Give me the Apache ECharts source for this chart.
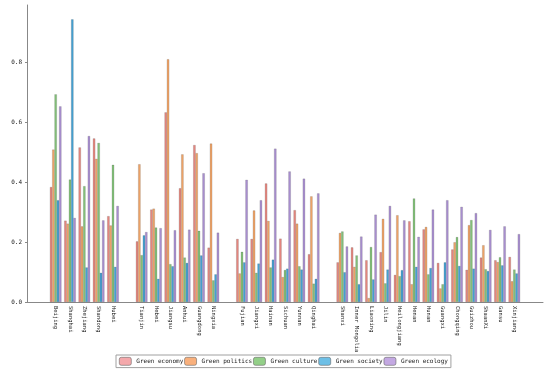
<!DOCTYPE html>
<html>
<head>
<meta charset="utf-8">
<script src="https://cdn.jsdelivr.net/npm/echarts@6/dist/echarts.min.js"></script>
<style>
  html, body { margin: 0; padding: 0; background: #fff; }
  #chart { width: 550px; height: 372px; }
</style>
</head>
<body>
<div id="chart"></div>
<script>
// '' entries are empty slots that separate the province groups
const provinces = ['', '',
  'Beijing', 'Shanghai', 'Zhejiang', 'Shandong', 'Hubei', '',
  'Tianjin', 'Hebei', 'Jiangsu', 'Anhui', 'Guangdong', 'Ningxia', '',
  'Fujian', 'Jiangxi', 'Hainan', 'Sichuan', 'Yunnan', 'Qinghai', '',
  'Shanxi', 'Inner Mongolia', 'Liaoning', 'Jilin', 'Heilongjiang', 'Henan', 'Hunan',
  'Guangxi', 'Chongqing', 'Guizhou', 'ShaanXi', 'Gansu', 'Xinjiang', '', ''];

const greenEconomy = [null, null,
  0.383, 0.271, 0.515, 0.545, 0.286, null,
  0.202, 0.308, 0.632, 0.379, 0.523, 0.181, null,
  0.210, 0.210, 0.395, 0.211, 0.306, 0.159, null,
  0.132, 0.182, 0.139, 0.166, 0.090, 0.269, 0.242,
  0.130, 0.175, 0.107, 0.148, 0.139, 0.150, null, null];

const greenPolitics = [null, null,
  0.508, 0.261, 0.252, 0.477, 0.255, null,
  0.459, 0.311, 0.809, 0.492, 0.496, 0.528, null,
  0.095, 0.305, 0.270, 0.083, 0.261, 0.352, null,
  0.230, 0.117, 0.013, 0.277, 0.289, 0.059, 0.250,
  0.045, 0.199, 0.256, 0.189, 0.133, 0.069, null, null];

const greenCulture = [null, null,
  0.692, 0.408, 0.386, 0.530, 0.457, null,
  0.156, 0.248, 0.126, 0.148, 0.237, 0.072, null,
  0.167, 0.097, 0.115, 0.106, 0.119, 0.061, null,
  0.235, 0.155, 0.183, 0.062, 0.086, 0.345, 0.092,
  0.059, 0.216, 0.273, 0.109, 0.149, 0.108, null, null];

const greenSociety = [null, null,
  0.339, 0.942, 0.115, 0.097, 0.117, null,
  0.222, 0.077, 0.119, 0.130, 0.155, 0.092, null,
  0.132, 0.128, 0.141, 0.111, 0.108, 0.077, null,
  0.099, 0.059, 0.075, 0.108, 0.106, 0.117, 0.113,
  0.132, 0.120, 0.111, 0.103, 0.122, 0.095, null, null];

const greenEcology = [null, null,
  0.652, 0.280, 0.553, 0.272, 0.320, null,
  0.233, 0.246, 0.239, 0.241, 0.429, 0.231, null,
  0.407, 0.339, 0.511, 0.435, 0.411, 0.362, null,
  0.185, 0.218, 0.291, 0.320, 0.272, 0.217, 0.308,
  0.339, 0.317, 0.296, 0.240, 0.252, 0.226, null, null];

const yTicks = [0, 0.2, 0.4, 0.6, 0.8];

const chart = echarts.init(document.getElementById('chart'), null, { renderer: 'canvas' });

const monoFont = 'DejaVu Sans Mono';

const barCommon = {
  type: 'bar',
  barWidth: 2.3,
  barGap: '0%',
  emphasis: { disabled: true },
};

function makeSeries(name, data, color) {
  return {
    name: name,
    data: data,
    itemStyle: {
      color: color,
      borderColor: 'rgba(70, 70, 70, 0.6)',
      borderWidth: 0.3,
    },
    ...barCommon,
  };
}

const option = {
  animation: false,
  backgroundColor: '#fff',
  grid: {
    left: 27,
    right: 7,
    top: 5,
    bottom: 70,
    outerBoundsMode: 'none',
  },
  legend: {
    left: 116,
    top: 355,
    padding: [2, 3],
    itemWidth: 12,
    itemHeight: 8,
    itemGap: 1,
    borderColor: '#a0a0a0',
    borderWidth: 1,
    textStyle: {
      fontFamily: monoFont,
      fontSize: 6,
      color: '#222',
    },
    data: [
      { name: 'Green economy', itemStyle: { color: '#f4a8ab', borderColor: '#666', borderWidth: 0.6 } },
      { name: 'Green politics', itemStyle: { color: '#f9b07c', borderColor: '#666', borderWidth: 0.6 } },
      { name: 'Green culture', itemStyle: { color: '#93cf88', borderColor: '#666', borderWidth: 0.6 } },
      { name: 'Green society', itemStyle: { color: '#6dbfe6', borderColor: '#666', borderWidth: 0.6 } },
      { name: 'Green ecology', itemStyle: { color: '#c3a8e2', borderColor: '#666', borderWidth: 0.6 } },
    ],
  },
  xAxis: {
    type: 'category',
    data: provinces,
    boundaryGap: false,
    axisLine: { lineStyle: { color: '#888', width: 1 } },
    axisTick: { show: false },
    axisLabel: {
      interval: 0,
      rotate: -90,
      margin: 4,
      fontFamily: monoFont,
      fontSize: 5.5,
      color: '#222',
    },
    splitLine: { show: false },
  },
  yAxis: {
    type: 'value',
    min: 0,
    max: 0.99,
    interval: 0.2,
    name: 'Score',
    nameLocation: 'middle',
    nameGap: 15,
    nameTextStyle: {
      fontFamily: 'DejaVu Sans',
      fontSize: 7,
      color: '#222',
    },
    axisLine: { show: true, lineStyle: { color: '#888', width: 1 } },
    axisTick: { show: true, length: 2, lineStyle: { color: '#888' } },
    axisLabel: {
      showMaxLabel: false,
      margin: 5,
      fontFamily: monoFont,
      fontSize: 6,
      color: '#222',
      formatter: function (v) {
        return yTicks.indexOf(Math.round(v * 10) / 10) >= 0 ? v.toFixed(1) : '';
      },
    },
    splitLine: { show: false },
  },
  series: [
    makeSeries('Green economy', greenEconomy, '#e6877f'),
    makeSeries('Green politics', greenPolitics, '#f0a468'),
    makeSeries('Green culture', greenCulture, '#84c17a'),
    makeSeries('Green society', greenSociety, '#45a2d4'),
    makeSeries('Green ecology', greenEcology, '#a98fd1'),
  ],
};

chart.setOption(option);
</script>
</body>
</html>
